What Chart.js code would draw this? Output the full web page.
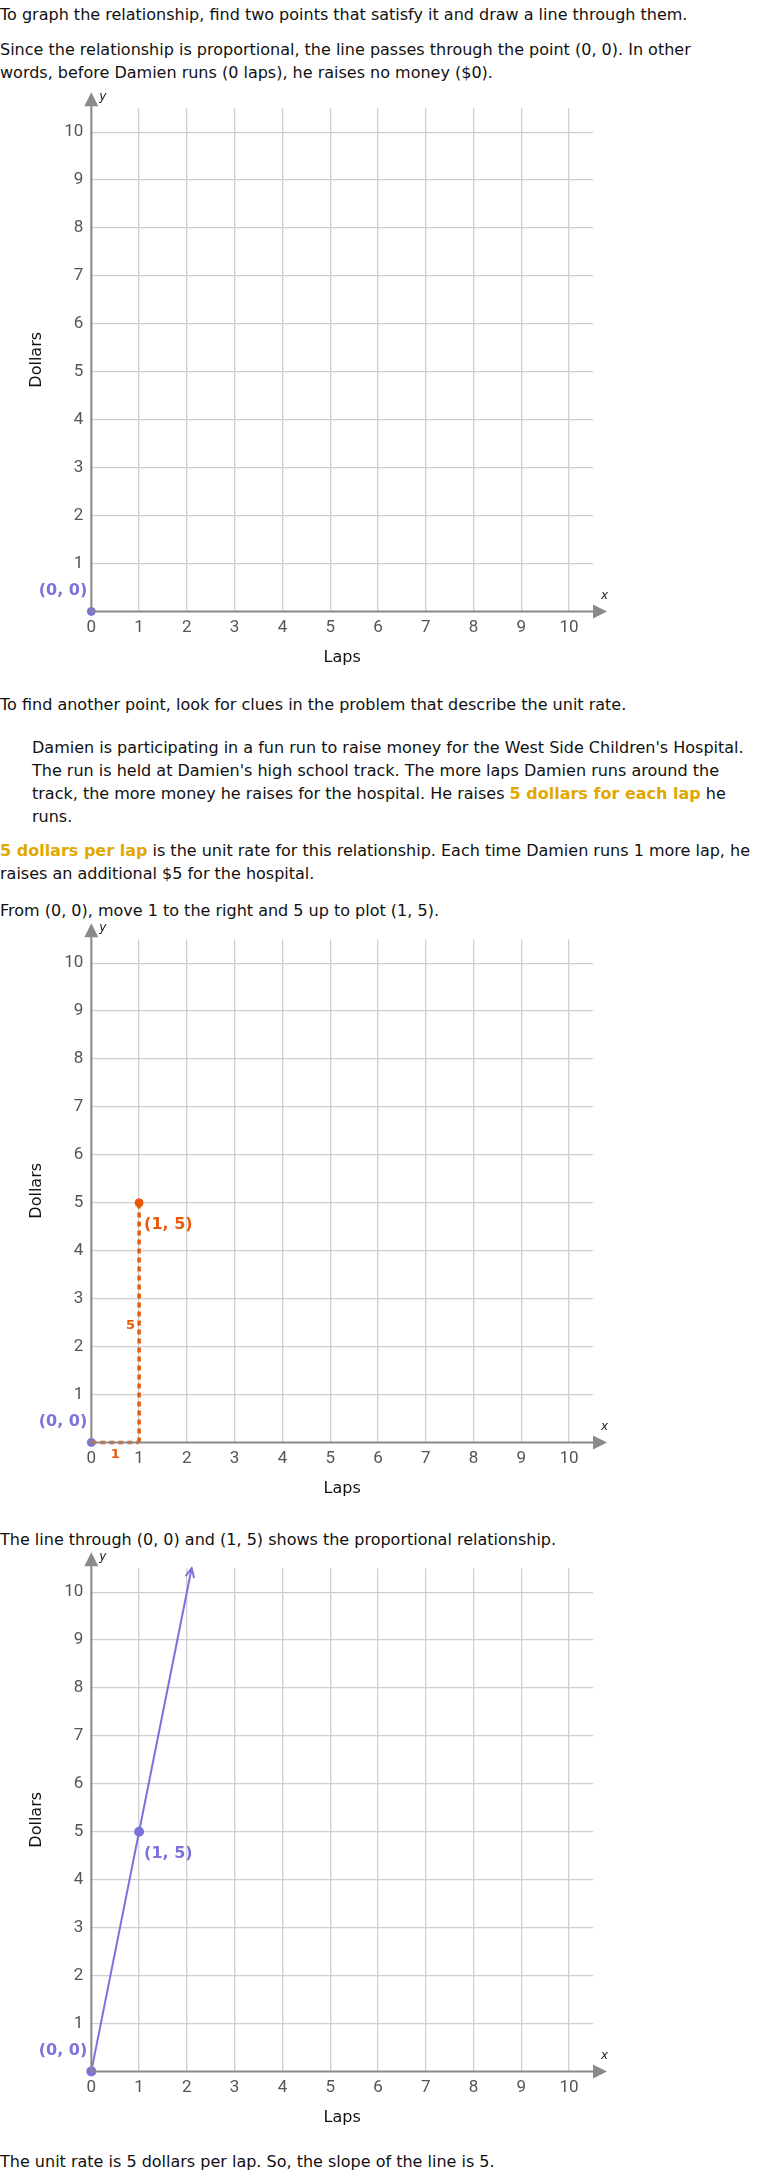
<!DOCTYPE html>
<html>
<head>
<meta charset="utf-8">
<script src="https://cdn.jsdelivr.net/npm/chart.js@4"></script>
<style>
  body { margin: 0; width: 760px; height: 2174px; position: relative; background: #fff;
         font-family: "DejaVu Sans", Verdana, sans-serif; font-size: 16px; color: #111; overflow: hidden; }
  .t { position: absolute; left: 0; margin: 0; line-height: 23px; white-space: nowrap; }
  .q { left: 32px; }
  .hl { color: #e0a800; font-weight: bold; }
  .box { position: absolute; left: 0; width: 640px; height: 581px; }
</style>
</head>
<body>
<p class="t" style="top:3px">To graph the relationship, find two points that satisfy it and draw a line through them.</p>
<p class="t" style="top:38px">Since the relationship is proportional, the line passes through the point (0, 0). In other<br>words, before Damien runs (0 laps), he raises no money ($0).</p>
<div class="box" style="top:90px"><canvas id="c1"></canvas></div>
<p class="t" style="top:693px">To find another point, look for clues in the problem that describe the unit rate.</p>
<p class="t q" style="top:736px">Damien is participating in a fun run to raise money for the West Side Children's Hospital.<br>The run is held at Damien's high school track. The more laps Damien runs around the<br>track, the more money he raises for the hospital. He raises <span class="hl">5 dollars for each lap</span> he<br>runs.</p>
<p class="t" style="top:839px"><span class="hl">5 dollars per lap</span> is the unit rate for this relationship. Each time Damien runs 1 more lap, he<br>raises an additional $5 for the hospital.</p>
<p class="t" style="top:899px">From (0, 0), move 1 to the right and 5 up to plot (1, 5).</p>
<div class="box" style="top:921px"><canvas id="c2"></canvas></div>
<p class="t" style="top:1528px">The line through (0, 0) and (1, 5) shows the proportional relationship.</p>
<div class="box" style="top:1550px"><canvas id="c3"></canvas></div>
<p class="t" style="top:2150px">The unit rate is 5 dollars per lap. So, the slope of the line is 5.</p>

<script>
// data
const tickValues = [0, 1, 2, 3, 4, 5, 6, 7, 8, 9, 10];
const origin = [{ x: 0, y: 0 }];
const unitPoint = [{ x: 1, y: 5 }];
const runPath = [{ x: 0, y: 0 }, { x: 1, y: 0 }];
const risePath = [{ x: 1, y: 0 }, { x: 1, y: 5 }];
const linePoints = [{ x: 0, y: 0 }, { x: 1, y: 5 }, { x: 2.1, y: 10.5 }];

const PURPLE = '#7b72dc';
const ORANGE = '#e8590c';
const AXIS = '#8a8a8a';

// ejes con flechas y etiquetas
function axesPlugin(labels) {
  return {
    id: 'axesArrows',
    afterDatasetsDraw(chart) {
      const { ctx, chartArea, scales: { x, y } } = chart;
      const x0 = x.getPixelForValue(0), y0 = y.getPixelForValue(0);
      ctx.save();
      ctx.strokeStyle = AXIS; ctx.fillStyle = AXIS; ctx.lineWidth = 2;
      ctx.beginPath();
      ctx.moveTo(x0, y0); ctx.lineTo(x0, chartArea.top - 4);
      ctx.moveTo(x0, y0); ctx.lineTo(chartArea.right + 2, y0);
      ctx.stroke();
      ctx.beginPath();
      ctx.moveTo(x0, chartArea.top - 16); ctx.lineTo(x0 - 7, chartArea.top - 2); ctx.lineTo(x0 + 7, chartArea.top - 2);
      ctx.fill();
      ctx.beginPath();
      ctx.moveTo(chartArea.right + 14, y0); ctx.lineTo(chartArea.right, y0 - 7); ctx.lineTo(chartArea.right, y0 + 7);
      ctx.fill();
      ctx.fillStyle = '#222';
      ctx.font = 'italic 12px "DejaVu Sans"';
      ctx.textAlign = 'left';
      ctx.fillText('y', x0 + 8, chartArea.top - 8);
      ctx.fillText('x', chartArea.right + 8, y0 - 12);
      labels.forEach(l => {
        ctx.fillStyle = l.color;
        ctx.font = 'bold ' + (l.size || 16) + 'px "DejaVu Sans"';
        ctx.textAlign = l.align;
        ctx.fillText(l.text, x.getPixelForValue(l.x) + l.dx, y.getPixelForValue(l.y) + l.dy);
      });
      ctx.restore();
    }
  };
}

function makeChart(id, datasets, labels, extra) {
  return new Chart(document.getElementById(id), {
    type: 'scatter',
    data: { datasets },
    options: {
      responsive: true,
      maintainAspectRatio: false,
      animation: false,
      layout: { padding: { top: 18, right: 47, left: 23, bottom: 0 } },
      plugins: { legend: { display: false }, tooltip: { enabled: false } },
      scales: {
        x: {
          min: 0, max: 10.5,
          afterBuildTicks: s => { s.ticks = tickValues.map(v => ({ value: v })); },
          grid: { color: '#cfcfcf', lineWidth: 1.3, drawTicks: false },
          border: { display: false },
          ticks: { color: '#555', font: { family: 'Roboto', size: 17 }, padding: 6 },
          title: { display: true, text: 'Laps', color: '#111', font: { family: 'DejaVu Sans', size: 16 }, padding: { top: 4 } }
        },
        y: {
          min: 0, max: 10.5,
          afterBuildTicks: s => { s.ticks = tickValues.slice(1).map(v => ({ value: v })); },
          grid: { color: '#cfcfcf', lineWidth: 1.3, drawTicks: false },
          border: { display: false },
          ticks: { color: '#555', font: { family: 'Roboto', size: 17 }, padding: 8 },
          title: { display: true, text: 'Dollars', color: '#111', font: { family: 'DejaVu Sans', size: 16 }, padding: { bottom: 10 } }
        }
      }
    },
    plugins: [axesPlugin(labels)].concat(extra || [])
  });
}

const pointSet = (data, color) => ({ data, showLine: false, pointRadius: 4, pointBackgroundColor: color, pointBorderColor: color, clip: false });
const lbl00 = { text: '(0, 0)', x: 0, y: 0, dx: -4, dy: -16, color: PURPLE, align: 'right' };

makeChart('c1', [pointSet(origin, PURPLE)], [lbl00]);

const dashed = data => ({ data, showLine: true, borderColor: ORANGE, borderWidth: 3.5, borderDash: [5, 4], pointRadius: 0, clip: false });
makeChart('c2', [
  dashed(runPath), dashed(risePath),
  pointSet(unitPoint, ORANGE), pointSet(origin, PURPLE)
], [
  lbl00,
  { text: '(1, 5)', x: 1, y: 5, dx: 5, dy: 26, color: ORANGE, align: 'left' },
  { text: '5', x: 1, y: 2.5, dx: -4, dy: 6, color: ORANGE, align: 'right', size: 13 },
  { text: '1', x: 0.5, y: 0, dx: 0, dy: 16, color: ORANGE, align: 'center', size: 13 }
]);

const arrowPlugin = {
  id: 'lineArrow',
  afterDatasetsDraw(chart) {
    const { ctx, scales: { x, y } } = chart;
    const a = linePoints[linePoints.length - 2], b = linePoints[linePoints.length - 1];
    const px = x.getPixelForValue(b.x), py = y.getPixelForValue(b.y);
    const ang = Math.atan2(py - y.getPixelForValue(a.y), px - x.getPixelForValue(a.x));
    ctx.save();
    ctx.strokeStyle = PURPLE; ctx.lineWidth = 2;
    ctx.beginPath();
    ctx.moveTo(px - 10 * Math.cos(ang - 0.45), py - 10 * Math.sin(ang - 0.45));
    ctx.lineTo(px, py);
    ctx.lineTo(px - 10 * Math.cos(ang + 0.45), py - 10 * Math.sin(ang + 0.45));
    ctx.stroke();
    ctx.restore();
  }
};
makeChart('c3', [
  { data: linePoints, showLine: true, borderColor: PURPLE, borderWidth: 2, clip: false,
    pointRadius: [4, 4, 0], pointBackgroundColor: PURPLE, pointBorderColor: PURPLE }
], [
  lbl00,
  { text: '(1, 5)', x: 1, y: 5, dx: 5, dy: 26, color: PURPLE, align: 'left' }
], [arrowPlugin]);
</script>
</body>
</html>
